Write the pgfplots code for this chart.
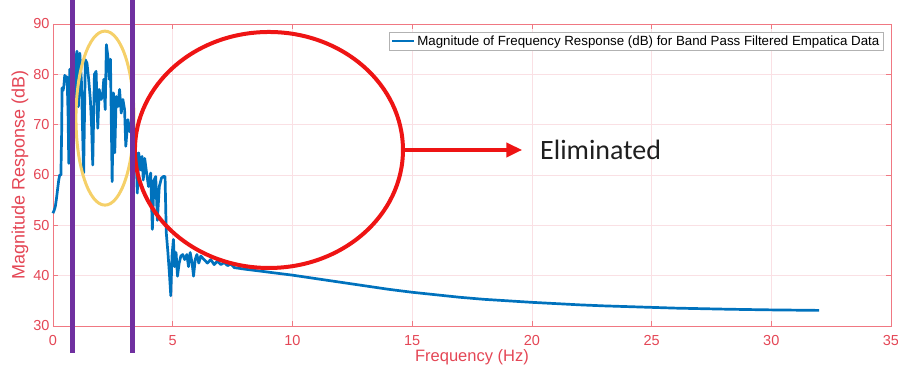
\documentclass[border=0pt]{standalone}
\usepackage{pgfplots}
\pgfplotsset{compat=1.18}
\usepackage{fontspec}
\setmainfont{Liberation Sans}
\newfontfamily\calibri{Carlito}
\usetikzlibrary{arrows.meta}
\definecolor{matblue}{RGB}{0,114,189}
\definecolor{gridpink}{RGB}{250,224,228}
\definecolor{boxred}{RGB}{240,120,130}
\definecolor{labred}{RGB}{228,70,85}
\definecolor{vpurple}{RGB}{112,48,160}
\definecolor{ellyellow}{RGB}{245,208,105}
\definecolor{ellred}{RGB}{238,20,20}
\begin{document}
\begin{tikzpicture}
\useasboundingbox (-53pt,-56pt) rectangle (845pt,326pt);
\begin{axis}[
  at={(0,0)}, anchor=south west,
  scale only axis, width=838pt, height=302pt,
  xmin=0, xmax=35, ymin=30, ymax=90,
  xtick={0,5,...,35}, ytick={30,40,...,90},
  grid=major, grid style={color=gridpink, line width=0.6pt},
  axis line style={color=boxred, line width=0.8pt},
  tick style={color=boxred, line width=0.6pt},
  tick align=inside, major tick length=5pt,
  ticklabel style={font=\fontsize{14.5}{16}\selectfont, text=labred},
  xticklabel style={yshift=-6pt},
  /pgf/number format/assume math mode=true,
  xlabel={Frequency (Hz)}, ylabel={Magnitude Response (dB)},
  xlabel style={font=\fontsize{16.5}{18}\selectfont, text=labred, anchor=center, at={(axis description cs:0.5,-0.104)}},
  ylabel style={font=\fontsize{18}{20}\selectfont, text=labred, anchor=center, at={(axis description cs:-0.0394,0.5)}},
  legend style={at={(0.9905,0.9735)}, anchor=north east, draw=gray!60,
    font=\fontsize{13.3}{15}\selectfont, inner sep=1.5pt, row sep=0pt},
  legend cell align=left,
  legend image code/.code={\draw[#1, line width=2.4pt] (0pt,0pt) -- (22pt,0pt);},
  clip=false,
]
\addplot[matblue, line width=2.7pt, line join=round] coordinates {
(0.00,52.4) (0.05,53.0) (0.10,53.8) (0.15,55.5) (0.20,57.5) (0.24,59.0) (0.28,60.0) (0.33,60.0) (0.36,68) (0.38,77.3) (0.42,76.8) (0.45,77.5) (0.49,79.8) (0.52,79.6) (0.56,78.5) (0.59,79.5) (0.63,72) (0.66,62.3) (0.70,81.0) (0.74,62.3) (0.80,81.6) (0.85,84.5) (0.90,70.0) (0.95,83.0) (1.00,84.6) (1.06,73.6) (1.12,84.2) (1.19,78.3) (1.23,70) (1.28,60.4) (1.35,82.9) (1.42,82.2) (1.49,79.0) (1.56,75.0) (1.61,70) (1.66,62.0) (1.73,80.0) (1.80,80.6) (1.87,69.3) (1.93,77.0) (2.01,75.0) (2.07,75.6) (2.12,79.0) (2.18,73.0) (2.23,85.9) (2.29,83.6) (2.35,79.0) (2.40,83.0) (2.47,58.7) (2.53,76.3) (2.58,64.4) (2.64,75.6) (2.71,73.6) (2.78,77.0) (2.85,72.3) (2.92,75.0) (2.99,73.0) (3.04,65.7) (3.13,71.0) (3.21,68.6) (3.28,69.6) (3.35,68.0) (3.42,62.0) (3.47,64.5) (3.52,56.4) (3.58,64.4) (3.66,61.0) (3.72,63.7) (3.77,59.0) (3.83,63.3) (3.91,60.4) (3.99,57.7) (4.08,60.4) (4.15,49.2) (4.22,59.0) (4.29,59.7) (4.36,51.0) (4.44,57.7) (4.53,59.4) (4.61,59.7) (4.68,59.7) (4.73,48.6) (4.80,44.6) (4.86,40.6) (4.92,36.0) (4.97,43.9) (5.03,47.2) (5.08,41.8) (5.14,44.6) (5.20,39.9) (5.27,42.5) (5.34,43.9) (5.42,44.2) (5.50,43.2) (5.59,44.2) (5.66,41.8) (5.73,44.6) (5.81,42.5) (5.87,39.9) (5.94,43.2) (6.01,44.2) (6.09,42.5) (6.17,43.9) (6.31,43.2) (6.45,42.5) (6.59,43.2) (6.73,42.2) (6.87,42.9) (7.01,42.2) (7.15,42.6) (7.29,42.0) (7.43,42.3) (7.57,41.6) (8,41.3) (9,40.7) (10,40.1) (11,39.4) (12,38.7) (13,38.0) (14,37.3) (15,36.7) (16,36.2) (17,35.7) (18,35.3) (19,35.0) (20,34.7) (21,34.45) (22,34.2) (23,34.0) (24,33.85) (25,33.7) (26,33.55) (27,33.45) (28,33.35) (29,33.27) (30,33.2) (31,33.15) (32,33.1)
};
\addlegendentry{Magnitude of Frequency Response (dB) for Band Pass Filtered Empatica Data}
\draw[ellyellow, line width=3pt] (axis cs:2.17,71.3) ellipse [x radius=29pt, y radius=87pt];
\draw[ellred, line width=4pt] (axis cs:9.02,64.97) ellipse [x radius=134pt, y radius=118pt];
\draw[ellred, line width=4pt, -{Triangle[length=16pt,width=14pt]}] (axis cs:14.62,64.97) -- (axis cs:19.6,64.97);
\node[anchor=base west, inner sep=0pt, text=black!88, font=\calibri\fontsize{28}{32}\selectfont] at (axis cs:20.34,62.98) {Eliminated};
\draw[vpurple, line width=5pt] (axis cs:0.835,95.5) -- (axis cs:0.835,24.6);
\draw[vpurple, line width=5pt] (axis cs:3.34,95.5) -- (axis cs:3.34,24.6);
\end{axis}
\end{tikzpicture}
\end{document}
